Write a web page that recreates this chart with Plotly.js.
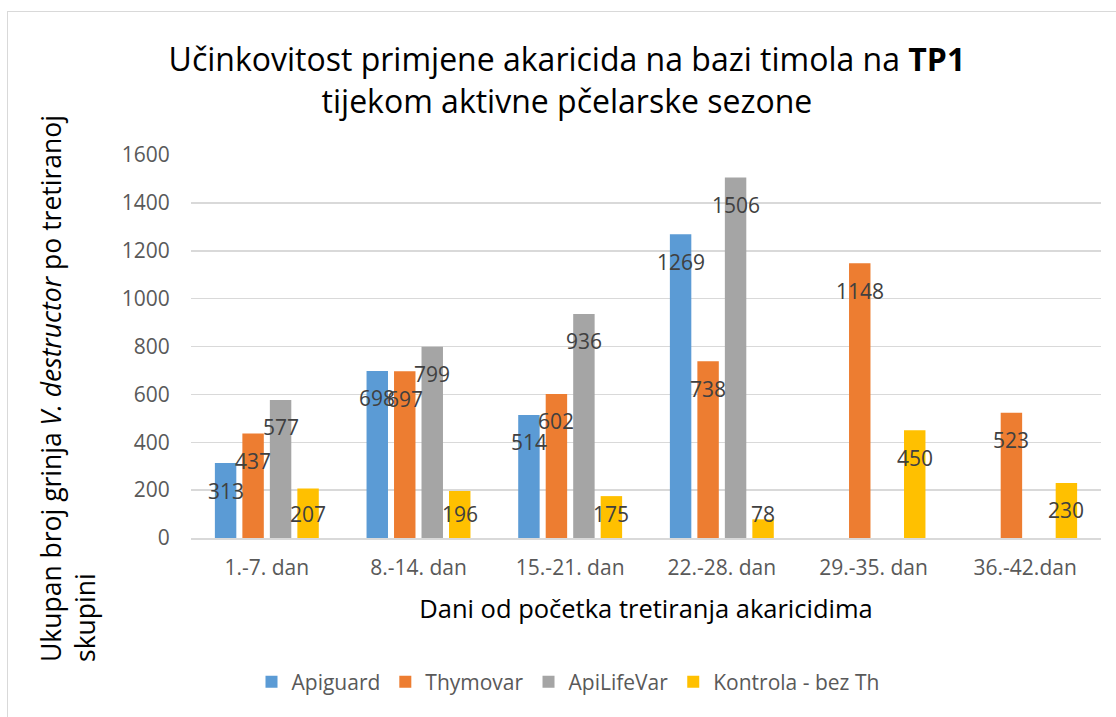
<!DOCTYPE html>
<html>
<head>
<meta charset="utf-8">
<script src="https://cdn.plot.ly/plotly-3.0.1.min.js"></script>
<style>
  html, body { margin: 0; padding: 0; background: #ffffff; }
  #wrap { position: relative; width: 1116px; height: 717px; overflow: hidden; }
  #chart { position: absolute; left: 0; top: 0; width: 1116px; height: 717px; }
  #frame { position: absolute; left: 7px; top: 11px; width: 1200px; height: 800px;
           border-left: 1.5px solid #d9d9d9; border-top: 1.5px solid #d9d9d9; pointer-events: none; }
</style>
</head>
<body>
<div id="wrap">
  <div id="chart"></div>
  <div id="frame"></div>
</div>
<script>
// ---- data ----
const categories = ['1.-7. dan', '8.-14. dan', '15.-21. dan', '22.-28. dan', '29.-35. dan', '36.-42.dan'];
const seriesNames = ['Apiguard', 'Thymovar', 'ApiLifeVar', 'Kontrola - bez Th'];
const apiguard   = [313, 698, 514, 1269, null, null];
const thymovar   = [437, 697, 602, 738, 1148, 523];
const apilifevar = [577, 799, 936, 1506, null, null];
const kontrola   = [207, 196, 175, 78, 450, 230];
const yTickValues = [0, 200, 400, 600, 800, 1000, 1200, 1400, 1600];

const seriesValues = [apiguard, thymovar, apilifevar, kontrola];
const seriesColors = ['#5B9BD5', '#ED7D31', '#A5A5A5', '#FFC000'];

const FONT = '"Open Sans", "Noto Sans", sans-serif';
const W = 1116, H = 717;
const M = { l: 191, r: 15, t: 155, b: 179, pad: 0 };
const YMAX = 1600;
const BARGAP = 0.275, BARGROUPGAP = 0.22;

const traces = seriesValues.map((vals, i) => ({
  type: 'bar',
  name: seriesNames[i],
  x: categories,
  y: vals,
  marker: { color: seriesColors[i], line: { width: 0 } },
  hoverinfo: 'x+y+name'
}));

// data labels: centred on each bar, just inside its end (kept clear of the axis for short bars)
const plotW = W - M.l - M.r, plotH = H - M.t - M.b;
const slotPx = plotW / categories.length * (1 - BARGAP) / seriesValues.length;
const LABEL_DROP = 27.5, LABEL_MIN = 24.5;
const annotations = [];
seriesValues.forEach((vals, i) => {
  vals.forEach((v, j) => {
    if (v === null || v === undefined) return;
    const hpx = v / YMAX * plotH;
    const inside = hpx - LABEL_DROP >= LABEL_MIN;
    annotations.push({
      x: categories[j], y: inside ? v : 0, xref: 'x', yref: 'y',
      text: String(v), showarrow: false,
      xshift: (i - (seriesValues.length - 1) / 2) * slotPx,
      yshift: inside ? -LABEL_DROP : LABEL_MIN,
      xanchor: 'center', yanchor: 'middle',
      font: { family: FONT, size: 21, color: '#404040' }
    });
  });
});

// y-axis title (two lines, left aligned as in the reference)
annotations.push({
  xref: 'paper', yref: 'paper',
  x: (68 - M.l) / plotW, y: (M.t + plotH - 389) / plotH,
  xanchor: 'center', yanchor: 'middle',
  text: 'Ukupan broj grinja <i>V. destructor</i> po tretiranoj<br>skupini',
  textangle: -90, align: 'left', showarrow: false,
  font: { family: FONT, size: 26.5, color: '#000000' }
});

const layout = {
  width: W, height: H,
  margin: M,
  paper_bgcolor: 'rgba(0,0,0,0)',
  plot_bgcolor: 'rgba(0,0,0,0)',
  barmode: 'group',
  bargap: BARGAP,
  bargroupgap: BARGROUPGAP,
  showlegend: true,
  title: {
    text: 'Učinkovitost primjene akaricida na bazi timola na <b>TP1</b><br>tijekom aktivne pčelarske sezone',
    x: 0.508, xref: 'container', xanchor: 'center',
    y: 1 - 71 / H, yref: 'container', yanchor: 'top',
    font: { family: FONT, size: 32, color: '#000000' }
  },
  xaxis: {
    type: 'category',
    tickfont: { family: FONT, size: 21, color: '#595959' },
    ticks: 'outside', ticklen: 10, tickcolor: 'rgba(0,0,0,0)',
    showline: true, linecolor: '#d9d9d9', linewidth: 1.5,
    showgrid: false, zeroline: false, fixedrange: true,
    automargin: false,
    title: {
      text: 'Dani od početka tretiranja akaricidima',
      font: { family: FONT, size: 25.5, color: '#000000' },
      standoff: 20
    }
  },
  yaxis: {
    range: [0, YMAX],
    tickvals: yTickValues,
    ticktext: yTickValues.map(String),
    tickfont: { family: FONT, size: 21, color: '#595959' },
    ticks: 'outside', ticklen: 16, tickcolor: 'rgba(0,0,0,0)',
    showgrid: true, gridcolor: '#d9d9d9', gridwidth: 1.5,
    zeroline: false, showline: false, fixedrange: true,
    automargin: false
  },
  legend: {
    orientation: 'h',
    x: (568 - M.l) / plotW, xanchor: 'center',
    y: (M.t + plotH - 682) / plotH, yanchor: 'middle',
    font: { family: FONT, size: 21, color: '#595959' },
    bgcolor: 'rgba(0,0,0,0)',
    traceorder: 'normal'
  },
  annotations: annotations,
  font: { family: FONT }
};

Plotly.newPlot('chart', traces, layout, { displayModeBar: false, staticPlot: true });
</script>
</body>
</html>
